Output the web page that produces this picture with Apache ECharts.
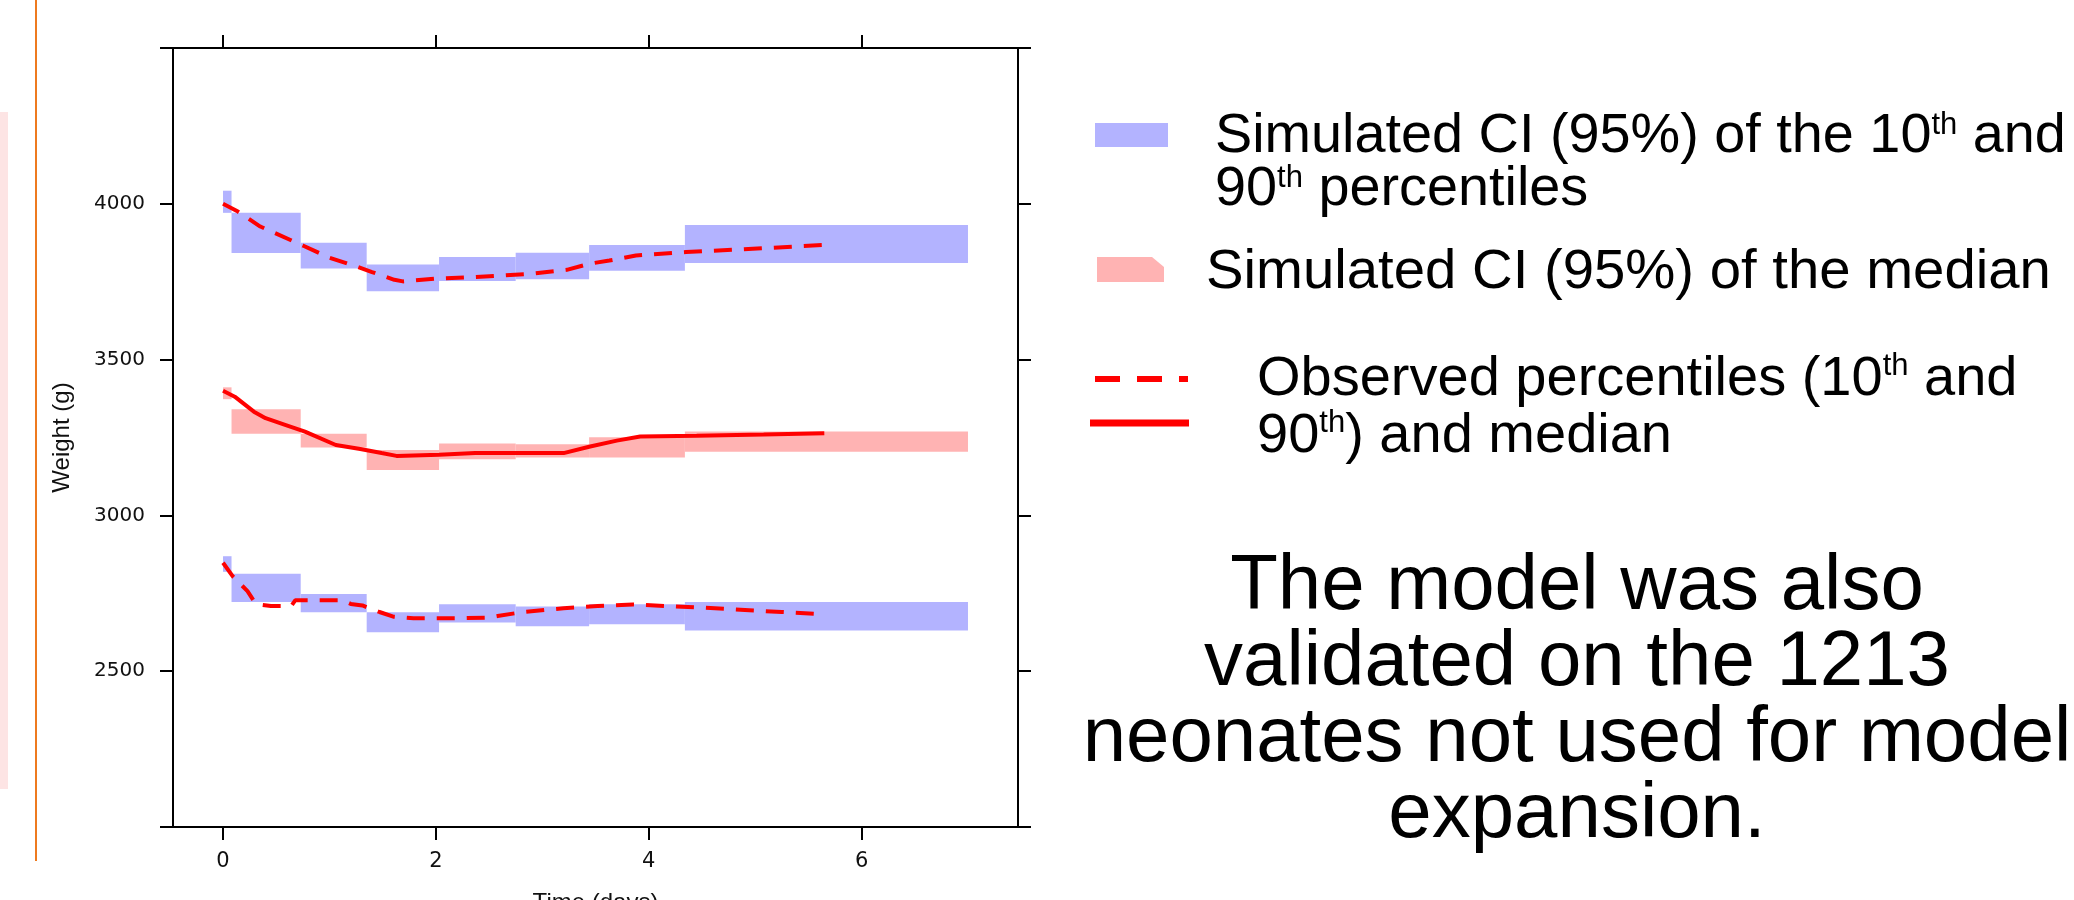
<!DOCTYPE html>
<html><head><meta charset="utf-8">
<script src="https://cdn.jsdelivr.net/npm/echarts@6/dist/echarts.min.js"></script>
<style>html,body{margin:0;padding:0;background:#fff}#c{width:2074px;height:900px}</style>
</head><body><div id="c"></div>
<script>
// ---- data ----
const xTicks = [0, 2, 4, 6];
const yTickLabels = [2500, 3000, 3500, 4000];
// simulated CI bins (time, days)
const binStart = [0, 0.08, 0.73, 1.35, 2.03, 2.75, 3.44, 4.34];
const binEnd   = [0.08, 0.73, 1.35, 2.03, 2.75, 3.44, 4.34, 7.0];
// 90th percentile CI
const p90Low  = [3971, 3842, 3792, 3719, 3752, 3758, 3785, 3810];
const p90High = [4042, 3971, 3875, 3805, 3829, 3843, 3868, 3932];
// median CI
const medLow  = [3373, 3262, 3218, 3146, 3180, 3186, 3186, 3204];
const medHigh = [3411, 3341, 3262, 3210, 3231, 3228, 3251, 3269];
// 10th percentile CI
const p10Low  = [2819, 2722, 2689, 2625, 2656, 2644, 2651, 2631];
const p10High = [2869, 2813, 2748, 2689, 2715, 2708, 2715, 2722];
// observed percentiles
const obsTime90 = [0, 0.14, 0.35, 0.75, 1.0, 1.27, 1.4, 1.61, 1.69, 2.01, 2.37, 2.91, 3.23, 3.45, 3.63, 3.88, 4.35, 4.89, 5.65];
const obs90     = [4000, 3975, 3927, 3866, 3827, 3797, 3781, 3756, 3751, 3760, 3765, 3776, 3788, 3808, 3818, 3834, 3845, 3854, 3868];
const obsTimeMed = [0, 0.11, 0.29, 0.4, 0.59, 0.77, 1.06, 1.29, 1.49, 1.63, 2.03, 2.37, 3.2, 3.45, 3.7, 3.92, 4.45, 5.08, 5.65];
const obsMed     = [3400, 3381, 3333, 3312, 3290, 3269, 3226, 3213, 3200, 3191, 3195, 3200, 3200, 3221, 3240, 3253, 3256, 3260, 3264];
const obsTime10 = [0, 0.09, 0.23, 0.31, 0.45, 0.64, 0.68, 1.12, 1.2, 1.31, 1.47, 1.6, 1.79, 2.23, 2.5, 2.58, 2.82, 3.2, 3.52, 3.85, 4.17, 4.5, 4.82, 5.25, 5.65];
const obs10     = [2848, 2805, 2757, 2715, 2709, 2709, 2728, 2728, 2716, 2711, 2690, 2675, 2670, 2670, 2672, 2677, 2690, 2702, 2709, 2714, 2709, 2704, 2698, 2690, 2683];

const FONT = 'Liberation Sans, Arial, Helvetica, sans-serif';
const TICKFONT = 'DejaVu Sans, Liberation Sans, sans-serif';
const BLUE = '#b3b3ff', PINK = '#ffb3b3', RED = '#ff0000';

const chart = echarts.init(document.getElementById('c'), null, {renderer: 'canvas'});

function bandSeries(name, lo, hi, color) {
  return {
    type: 'custom', name: name, silent: true, z: 1,
    data: binStart.map((s, i) => [s, binEnd[i], lo[i], hi[i]]),
    encode: {x: [0, 1], y: [2, 3]},
    renderItem: function (params, api) {
      const a = api.coord([api.value(0), api.value(3)]);
      const b = api.coord([api.value(1), api.value(2)]);
      return {type: 'rect', shape: {x: a[0], y: a[1], width: b[0] - a[0], height: b[1] - a[1]},
              style: {fill: color}};
    }
  };
}
function obsSeries(name, t, v, dashed) {
  return {
    type: 'line', name: name, showSymbol: false, silent: true, z: 3,
    data: t.map((x, i) => [x, v[i]]),
    lineStyle: {color: RED, width: 4, type: dashed ? [18, 12] : 'solid'}
  };
}

const axisLineStyle = {show: true, onZero: false, lineStyle: {color: '#000', width: 2}};
const tickStyle = {show: true, inside: false, length: 13, lineStyle: {color: '#000', width: 2}};
const plain = v => String(v);

const option = {
  animation: false,
  backgroundColor: '#fff',
  grid: {left: 173, right: 1056, top: 48, bottom: 73, containLabel: false, outerBoundsMode: 'none'},
  xAxis: [
    {type: 'value', position: 'bottom', min: -0.47, max: 7.47,
     axisLine: axisLineStyle, splitLine: {show: false},
     axisTick: Object.assign({customValues: xTicks}, tickStyle),
     axisLabel: {customValues: xTicks, formatter: plain, fontSize: 21, fontFamily: TICKFONT, color: '#111', margin: 24},
     name: 'Time (days)', nameLocation: 'middle', nameGap: 64,
     nameTextStyle: {fontSize: 24, fontFamily: FONT, color: '#111'}},
    {type: 'value', position: 'top', min: -0.47, max: 7.47,
     axisLine: axisLineStyle, splitLine: {show: false},
     axisTick: Object.assign({customValues: xTicks}, tickStyle),
     axisLabel: {show: false}}
  ],
  yAxis: [
    {type: 'value', position: 'left', min: 2000, max: 4500, interval: 500,
     axisLine: axisLineStyle, splitLine: {show: false}, axisTick: tickStyle,
     axisLabel: {customValues: yTickLabels, formatter: plain, fontSize: 20, fontFamily: TICKFONT, color: '#111', margin: 28},
     name: 'Weight (g)', nameLocation: 'middle', nameRotate: 90, nameGap: 99,
     nameTextStyle: {fontSize: 24, fontFamily: FONT, color: '#111'}},
    {type: 'value', position: 'right', min: 2000, max: 4500, interval: 500,
     axisLine: axisLineStyle, splitLine: {show: false}, axisTick: tickStyle,
     axisLabel: {show: false}}
  ],
  series: [
    bandSeries('Simulated CI 90th', p90Low, p90High, BLUE),
    bandSeries('Simulated CI median', medLow, medHigh, PINK),
    bandSeries('Simulated CI 10th', p10Low, p10High, BLUE),
    obsSeries('Observed 90th', obsTime90, obs90, true),
    obsSeries('Observed median', obsTimeMed, obsMed, false),
    obsSeries('Observed 10th', obsTime10, obs10, true)
  ],
  graphic: [
    {type: 'rect', silent: true, shape: {x: 0, y: 112, width: 8, height: 677}, style: {fill: '#fde4e4'}},
    {type: 'line', silent: true, shape: {x1: 36, y1: 0, x2: 36, y2: 861}, style: {stroke: '#ee7a1f', lineWidth: 2}},
    {type: 'rect', silent: true, shape: {x: 1095, y: 123, width: 73, height: 24}, style: {fill: BLUE}},
    {type: 'polygon', silent: true, shape: {points: [[1097, 257], [1152, 257], [1164, 267], [1164, 282], [1097, 282]]}, style: {fill: PINK}},
    {type: 'line', silent: true, shape: {x1: 1095, y1: 379, x2: 1188, y2: 379}, style: {stroke: RED, lineWidth: 6, lineDash: [25, 17]}},
    {type: 'line', silent: true, shape: {x1: 1090, y1: 423, x2: 1189, y2: 423}, style: {stroke: RED, lineWidth: 7}},
    {type: 'text', silent: true, x: 1215, y: 163, style: {
      text: 'Simulated CI (95%) of the 10{s|th} and\n90{s|th} percentiles',
      fontSize: 55.8, fontFamily: FONT, fill: '#000', lineHeight: 53,
      align: 'left', verticalAlign: 'middle',
      rich: {s: {fontSize: 31, fontFamily: FONT, fill: '#000', verticalAlign: 'top', lineHeight: 40}}}},
    {type: 'text', silent: true, x: 1206, y: 272, style: {
      text: 'Simulated CI (95%) of the median',
      fontSize: 56.3, fontFamily: FONT, fill: '#000', align: 'left', verticalAlign: 'middle'}},
    {type: 'text', silent: true, x: 1257, y: 408, style: {
      text: 'Observed percentiles (10{s|th} and\n90{s|th}) and median',
      fontSize: 56, fontFamily: FONT, fill: '#000', lineHeight: 57,
      align: 'left', verticalAlign: 'middle',
      rich: {s: {fontSize: 31, fontFamily: FONT, fill: '#000', verticalAlign: 'top', lineHeight: 40}}}},
    {type: 'text', silent: true, x: 1577, y: 701, style: {
      text: 'The model was also\nvalidated on the 1213\nneonates not used for model\nexpansion.',
      fontSize: 78, fontFamily: FONT, fill: '#000', lineHeight: 76,
      align: 'center', verticalAlign: 'middle'}}
  ]
};
chart.setOption(option);
</script>
</body></html>
